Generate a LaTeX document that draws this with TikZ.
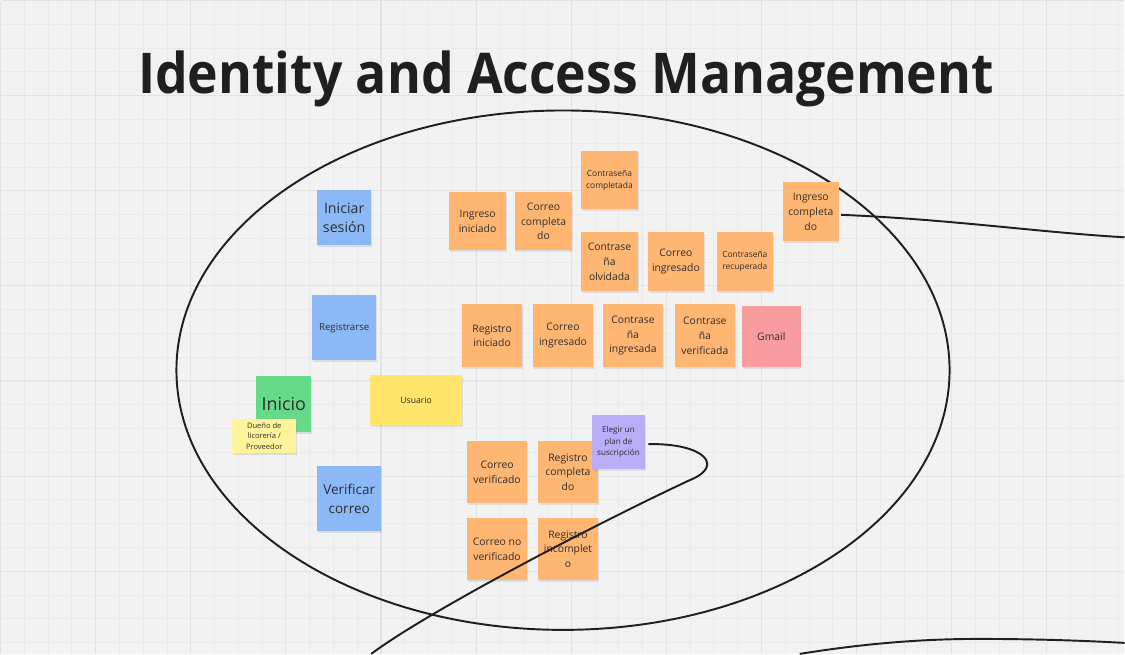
\documentclass[tikz,border=0pt]{standalone}
\usepackage{fontspec}
\setmainfont{Open Sans}
\newfontfamily\titlefont[FakeStretch=0.92]{Open Sans}
\usepackage{tikz}
\usetikzlibrary{shadows}
\definecolor{BoardBg}{HTML}{F2F2F2}
\definecolor{GridMinor}{HTML}{EAEAEA}
\definecolor{GridMajor}{HTML}{E3E3E3}
\definecolor{InkDark}{HTML}{1F1F1F}
\definecolor{NoteText}{HTML}{2E2E2E}
\definecolor{NoteOrange}{HTML}{FFB673}
\definecolor{NoteBlue}{HTML}{8BB9F7}
\definecolor{NoteGreen}{HTML}{67DA8A}
\definecolor{NoteYellow}{HTML}{FFE56B}
\definecolor{NoteLight}{HTML}{FFF49C}
\definecolor{NotePink}{HTML}{F99CA0}
\definecolor{NotePurple}{HTML}{BAADF8}

\tikzset{
  sticky/.style={rectangle, inner sep=0pt, align=center, text=NoteText,
    drop shadow={shadow xshift=0.4pt, shadow yshift=-1.2pt, opacity=0.18}},
  sz/.style 2 args={minimum width=#1*0.02cm, minimum height=#2*0.02cm},
  event/.style={sticky, fill=NoteOrange, font=\fontsize{5.9}{8.4}\selectfont},
  eventsmall/.style={sticky, fill=NoteOrange, font=\fontsize{4.8}{6.8}\selectfont},
  command/.style={sticky, fill=NoteBlue},
  flowline/.style={draw=InkDark, line width=1.1pt},
}

\begin{document}
\begin{tikzpicture}[x=0.02cm, y=-0.02cm]
    % board and grid
    \fill[BoardBg] (0,0) rectangle (1125,654);
    \foreach \i in {0,...,47} \draw[GridMinor, line width=0.5pt] (\i*23.8,0) -- (\i*23.8,654);
    \foreach \j in {0,...,27} \draw[GridMinor, line width=0.5pt] (0,\j*23.8) -- (1125,\j*23.8);
    \foreach \i in {0,...,11} \draw[GridMajor, line width=0.6pt] (\i*95.2,0) -- (\i*95.2,654);
    \foreach \j in {0,...,6} \draw[GridMajor, line width=0.6pt] (0,\j*95.2) -- (1125,\j*95.2);
    \useasboundingbox (0,0) rectangle (1125,654);

    \node[anchor=base, text=InkDark, font=\titlefont\bfseries\fontsize{32}{36}\selectfont] (title) at (566,93) {Identity and Access Management};

    \draw[flowline] (563,370) ellipse [x radius=7.74cm, y radius=5.2cm];

    % commands, actors
    \node[command, sz={54}{55}, font=\fontsize{8.1}{11}\selectfont] (iniSes) at (344,217.5) {Iniciar\\sesión};
    \node[command, sz={64}{65}, font=\fontsize{5.5}{7.5}\selectfont] (regis) at (344,327.5) {Registrarse};
    \node[command, sz={64}{65}, font=\fontsize{7.7}{11}\selectfont] (verCor) at (349,498.5) {Verificar\\correo};
    \node[sticky, fill=NoteGreen, sz={55}{56}, font=\fontsize{10.2}{12}\selectfont] (inicio) at (283.5,404) {Inicio};
    \node[sticky, fill=NoteLight, sz={64}{34}, font=\fontsize{4.3}{6.1}\selectfont] (duenio) at (264,436) {Dueño de\\licorería /\\Proveedor};
    \node[sticky, fill=NoteYellow, sz={92}{50}, font=\fontsize{4.9}{7}\selectfont] (usuario) at (416,400) {Usuario};

    % login events
    \node[event, sz={57}{58}] (ingIni) at (477.5,221) {Ingreso\\iniciado};
    \node[event, sz={57}{58}] (corComp) at (543.5,221) {Correo\\completa\\do};
    \node[eventsmall, sz={57}{58}] (contComp) at (609.5,180) {Contraseña\\completada};
    \node[event, sz={57}{59}] (contOlv) at (609.5,261.5) {Contrase\\ña\\olvidada};
    \node[event, sz={56}{59}] (corIng1) at (676,261.5) {Correo\\ingresado};
    \node[eventsmall, sz={56}{59}] (contRec) at (745,261.5) {Contraseña\\recuperada};
    \node[event, sz={56}{59}] (ingComp) at (811,211.5) {Ingreso\\completa\\do};

    % sign-up events
    \node[event, sz={60}{63}] (regIni) at (492,335.5) {Registro\\iniciado};
    \node[event, sz={60}{63}] (corIng2) at (563,335.5) {Correo\\ingresado};
    \node[event, sz={60}{63}] (contIng) at (633,335.5) {Contrase\\ña\\ingresada};
    \node[event, sz={60}{63}] (contVer) at (705,335.5) {Contrase\\ña\\verificada};
    \node[sticky, fill=NotePink, sz={59}{61}, font=\fontsize{5.9}{8.4}\selectfont] (gmail) at (771.5,336.5) {Gmail};

    \node[event, sz={60}{62}] (corVer) at (497,472) {Correo\\verificado};
    \node[event, sz={60}{62}] (regComp) at (568,472) {Registro\\completa\\do};
    \node[event, sz={60}{62}] (corNoVer) at (497,549) {Correo no\\verificado};
    \node[event, sz={60}{62}] (regIncomp) at (568,549) {Registro\\incomplet\\o};
    \node[sticky, fill=NotePurple, sz={53}{54}, font=\fontsize{4.6}{6.6}\selectfont] (plan) at (618.5,442) {Elegir un\\plan de\\suscripción};

    % loose lines
    \coordinate (ingOut) at (1125,237);
    \coordinate (planBend) at (690,480);
    \coordinate (planOut) at (371,654);
    \coordinate (loopIn) at (800,654);
    \coordinate (loopTop) at (979,639);
    \coordinate (loopOut) at (1125,643);

    \draw[flowline] (ingComp.east) ++(2,3) .. controls (950,219) and (1040,232) .. (ingOut);
    \draw[flowline] (plan.east) ++(3,2) .. controls (705,443) and (725,466) .. (planBend)
                    .. controls (600,522) and (430,610) .. (planOut);
    \draw[flowline] (loopIn) .. controls (880,641) and (940,639) .. (loopTop)
                    .. controls (1040,639) and (1090,641) .. (loopOut);
\end{tikzpicture}
\end{document}
